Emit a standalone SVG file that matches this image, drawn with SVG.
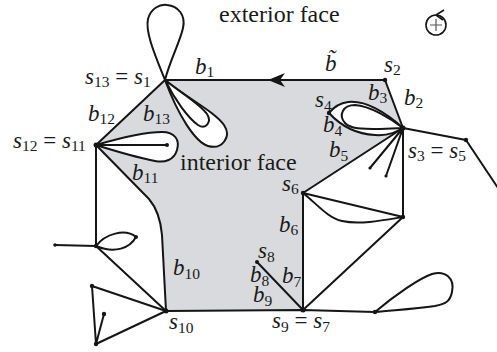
<svg xmlns="http://www.w3.org/2000/svg" width="497" height="352" viewBox="0 0 497 352">
<style>
.e{fill:none;stroke:#151515;stroke-width:2;stroke-linejoin:round;stroke-linecap:round}
.w{fill:#fff;stroke:#151515;stroke-width:2;stroke-linejoin:round}
.d{fill:#151515}
text{font-family:"Liberation Serif","Times New Roman",serif;fill:#1a1a1a}
.m{font-size:23px;font-style:italic}
.s{font-size:15.5px;font-style:normal}
.u{font-style:normal}
.t{font-size:24px}
</style>
<rect width="497" height="352" fill="#fff"/>
<g id="interior-face">
<path d="M165,80 L385,80 L403,128 L303,193 L303,310 L166,311 L162,235 Q160,212 149,199 L96,145 Z" fill="#d9dadd" stroke="none"/>
</g>
<g id="connectors">
<path class="e" d="M165,80 L385,80 L403,128 L466,140 L502,194"/>
<path class="e" d="M96,145 L165,80"/>
<path class="e" d="M96,145 L149,199 Q160,212 162,235 L166,311 L303,310 L375,312"/>
<path class="e" d="M403,128 L303,193 L303,310"/>
<path class="e" d="M403,128 L370,168 M403,128 L386,176 M403,128 L403,217 L303,193 M303,193 C318,205 328,218 342,221 C360,225 385,220 403,217 L303,310"/>
<path class="e" d="M257,262 L303,310"/>
<path class="e" d="M96,145 L96,246 L166,311 M55,245 L96,246"/>
<path class="e" d="M166,311 L92,286 L96,344 L166,311 M96,344 L104,314"/>
<path class="w" d="M165,80 C155,55 145,32 148,19 C151,8 160,4 167,5 C178,6 186,15 183,28 C180,42 170,60 165,80 Z"/>
<path class="w" d="M165,80 C190,100 215,112 224,125 C232,137 222,150 208,146 C195,142 178,115 165,80 Z"/>
<path class="w" d="M165,80 C185,96 200,104 207,114 C212,122 206,130 198,125 C188,118 175,100 165,80 Z"/>
<path class="w" d="M96,145 C120,138 145,132 162,132 C175,132 180,140 177,150 C174,160 165,163 155,161 C135,157 115,151 96,145 Z"/>
<path class="e" d="M96,145 L167,145"/>
<path class="w" d="M403,128 C385,112 365,100 348,102 C340,103 333,108 329,113 C340,125 355,134 375,135 C390,136 398,131 403,128 Z"/>
<path class="w" d="M403,128 C390,118 370,106 355,105 C343,105 338,115 345,123 C350,129 362,129 380,129 Z"/>
<path class="w" d="M96,246 C105,234 125,228 136,237 C130,248 115,254 96,246 Z"/>
<path class="w" d="M375,312 C395,295 420,278 432,274 C445,270 455,278 452,292 C450,302 445,304 435,306 C415,309 395,310 375,312 Z"/>
<path d="M268,80 L285,73 L280,80 L285,87 Z" fill="#151515"/>
</g>
<g id="vertices">
<circle class="d" cx="385" cy="80" r="2.2"/>
<circle class="d" cx="403" cy="128" r="2.5"/>
<circle class="d" cx="329" cy="113" r="2.2"/>
<circle class="d" cx="466" cy="140" r="2.2"/>
<circle class="d" cx="303" cy="193" r="2.2"/>
<circle class="d" cx="303" cy="310" r="2.5"/>
<circle class="d" cx="257" cy="262" r="2"/>
<circle class="d" cx="166" cy="311" r="2.5"/>
<circle class="d" cx="96" cy="145" r="2.5"/>
<circle class="d" cx="96" cy="246" r="2.2"/>
<circle class="d" cx="403" cy="217" r="2.2"/>
<circle class="d" cx="375" cy="312" r="2.2"/>
<circle class="d" cx="92" cy="286" r="2.2"/>
<circle class="d" cx="96" cy="344" r="2.2"/>
<circle class="d" cx="104" cy="314" r="2.2"/>
<circle class="d" cx="136" cy="237" r="2"/>
<circle class="d" cx="167" cy="145" r="2"/>
<circle class="d" cx="55" cy="245" r="1.8"/>
<circle class="d" cx="370" cy="168" r="1.6"/>
<circle class="d" cx="386" cy="176" r="1.6"/>
</g>
<g id="orientation">
<circle cx="436" cy="25" r="10" fill="none" stroke="#151515" stroke-width="1.6"/>
<path d="M436,19 V31 M430,25 H442" stroke="#555" stroke-width="1.2" fill="none"/>
<path d="M436,15 L444,10 M436,15 L443,20" stroke="#151515" stroke-width="1.6" fill="none"/>
</g>
<g id="labels">
<text class="t" x="219" y="22">exterior face</text>
<text class="t" x="180" y="170">interior face</text>
<text class="m" x="85" y="84">s<tspan class="s" dy="3">13</tspan><tspan class="u" dy="-3"> = </tspan>s<tspan class="s" dy="3">1</tspan></text>
<text class="m" x="195" y="74">b<tspan class="s" dy="3">1</tspan></text>
<text class="m" x="325" y="71">b̃</text>
<text class="m" x="384" y="72">s<tspan class="s" dy="3">2</tspan></text>
<text class="m" x="404" y="105">b<tspan class="s" dy="3">2</tspan></text>
<text class="m" x="368" y="100">b<tspan class="s" dy="3">3</tspan></text>
<text class="m" x="315" y="107">s<tspan class="s" dy="4">4</tspan></text>
<text class="m" x="323" y="132">b<tspan class="s" dy="4">4</tspan></text>
<text class="m" x="329" y="157">b<tspan class="s" dy="4">5</tspan></text>
<text class="m" x="408" y="158">s<tspan class="s" dy="3">3</tspan><tspan class="u" dy="-3"> = </tspan>s<tspan class="s" dy="3">5</tspan></text>
<text class="m" x="13" y="148">s<tspan class="s" dy="3">12</tspan><tspan class="u" dy="-3"> = </tspan>s<tspan class="s" dy="3">11</tspan></text>
<text class="m" x="88" y="121">b<tspan class="s" dy="3">12</tspan></text>
<text class="m" x="143" y="121">b<tspan class="s" dy="3">13</tspan></text>
<text class="m" x="132" y="180">b<tspan class="s" dy="3">11</tspan></text>
<text class="m" x="282" y="191">s<tspan class="s" dy="3">6</tspan></text>
<text class="m" x="279" y="232">b<tspan class="s" dy="3">6</tspan></text>
<text class="m" x="258" y="258">s<tspan class="s" dy="4">8</tspan></text>
<text class="m" x="250" y="282">b<tspan class="s" dy="4">8</tspan></text>
<text class="m" x="282" y="283">b<tspan class="s" dy="4">7</tspan></text>
<text class="m" x="253" y="302">b<tspan class="s" dy="4">9</tspan></text>
<text class="m" x="173" y="275">b<tspan class="s" dy="4">10</tspan></text>
<text class="m" x="169" y="329">s<tspan class="s" dy="4">10</tspan></text>
<text class="m" x="272" y="328">s<tspan class="s" dy="4">9</tspan><tspan class="u" dy="-4"> = </tspan>s<tspan class="s" dy="4">7</tspan></text>
</g>
</svg>
